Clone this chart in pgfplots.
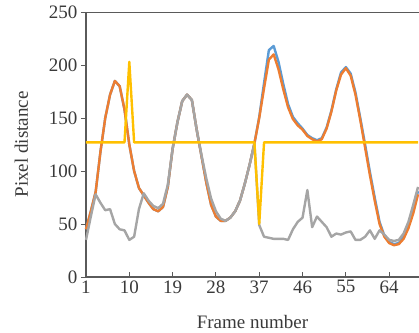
\documentclass[border=0pt]{standalone}
\usepackage{fontspec}
\setmainfont{Liberation Serif}
\usepackage{pgfplots}
\pgfplotsset{compat=1.18}
\usepackage{pgfplotstable}
\definecolor{cB}{HTML}{5B9BD5}
\definecolor{cO}{HTML}{ED7D31}
\definecolor{cG}{HTML}{A5A5A5}
\definecolor{cY}{HTML}{FFC000}
\definecolor{axc}{HTML}{5A5A5A}
\definecolor{txc}{HTML}{3A3A3A}
\pgfplotstableread{
f b o g y
1 45 45 35 127
2 62 62 57 127
3 80 80 78 127
4 118 118 70 127
5 150 150 63 127
6 172 172 64 127
7 185 185 50 127
8 180 180 45 127
9 158 158 44 127
10 125 125 35 203
11 100 100 38 127
12 84 84 64 127
13 77 77 79 127
14 70 70 72 127
15 64 64 67 127
16 62 62 65 127
17 66 66 69 127
18 85 85 87 127
19 121 121 121 127
20 146 146 146 127
21 166 166 166 127
22 172 172 172 127
23 167 167 167 127
24 139 139 139 127
25 114 114 115 127
26 89 89 93 127
27 68 68 74 127
28 57 57 62 127
29 53 53 55 127
30 53 53 53 127
31 56 56 56 127
32 62 62 62 127
33 72 72 72 127
34 88 88 88 127
35 106 106 106 127
36 126 126 126 127
37 151 150 49 50
38 183 178 38 127
39 214 205 37 127
40 218 210 36 127
41 203 196 36 127
42 182 177 36 127
43 163 160 35 127
44 151 149 45 127
45 145 143 52 127
46 140 139 56 127
47 134 133 82 127
48 131 130 47 127
49 129 128 57 127
50 131 130 52 127
51 141 140 47 127
52 157 156 38 127
53 177 176 41 127
54 193 191 40 127
55 198 197 42 127
56 192 190 43 127
57 174 172 35 127
58 150 148 35 127
59 125 122 38 127
60 99 96 44 127
61 75 72 36 127
62 52 50 44 127
63 39 38 40 127
64 33 32 35 127
65 31 30 34 127
66 32 31 35 127
67 38 36 41 127
68 48 46 52 127
69 63 60 68 127
70 81 78 85 127
}\data
\begin{document}
\begin{tikzpicture}
\begin{axis}[
  scale only axis, width=333pt, height=265pt,
  xmin=1, xmax=70.2, ymin=0, ymax=250,
  axis lines=left,
  axis line style={-, draw=axc, line width=1.2pt},
  xtick={1,10,19,28,37,46,55,64},
  ytick={0,50,100,150,200,250},
  xtick align=inside, ytick align=outside,
  major tick length=5pt,
  tick style={draw=axc, line width=1pt},
  /pgf/number format/assume math mode=true,
  ticklabel style={font=\fontsize{19}{22}\selectfont, text=txc},
  label style={font=\fontsize{19}{22}\selectfont, text=txc},
  xlabel={Frame number},
  ylabel={Pixel distance},
  xlabel shift=15pt,
  ylabel shift=14pt,
  clip=false,
]
\addplot[cB, line width=2.4pt, line join=round] table[x=f, y=b] {\data};
\addplot[cO, line width=2.4pt, line join=round] table[x=f, y=o] {\data};
\addplot[cG, line width=2.4pt, line join=round] table[x=f, y=g] {\data};
\addplot[cY, line width=2.4pt, line join=round] table[x=f, y=y] {\data};
\draw[axc, line width=1pt] (rel axis cs:0,1) -- (rel axis cs:1,1);
\coordinate (SW) at (rel axis cs:0,0);
\coordinate (NE) at (rel axis cs:1,1);
\end{axis}
\pgfresetboundingbox
\path[use as bounding box] ([shift={(-86pt,-56pt)}]SW) rectangle ([shift={(0pt,12pt)}]NE);
\end{tikzpicture}
\end{document}
